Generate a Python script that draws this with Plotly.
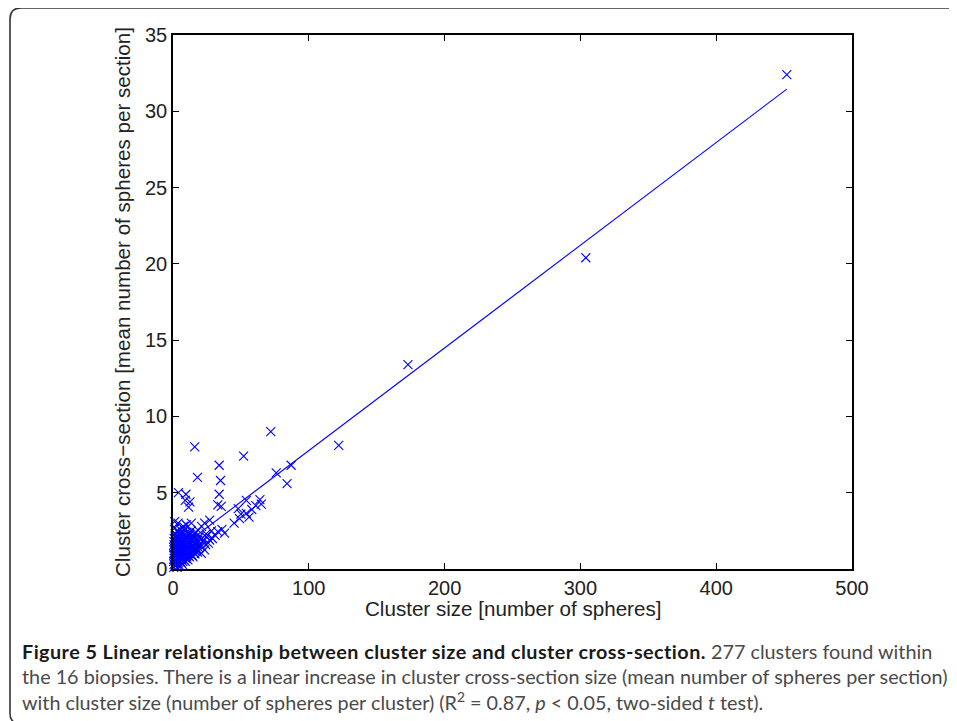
import plotly.graph_objects as go

# ---------------- data ----------------
# clearly resolved points (cluster size, mean spheres per section)
main_size = [452, 304, 173, 122, 72, 16, 52, 34, 18, 35, 34, 35.5, 33, 76, 87, 84,
             4, 9.5, 9, 12.5, 11.5, 54, 64, 65, 61, 48, 50, 54, 56, 45,
             27, 21, 23.3, 36, 33, 38, 28.3, 1.2, 3.7, 9.8, 13.5, 18.4, 16,
             24.5, 27, 22, 19.6, 23.3, 20.9, 17.2, 14.7, 7.6, 1.5, 49, 58]
main_cross = [32.4, 20.4, 13.4, 8.1, 9.0, 8.0, 7.4, 6.8, 6.0, 5.8, 4.9, 4.1, 4.2, 6.3, 6.8, 5.6,
              5.0, 4.9, 4.5, 4.4, 4.05, 4.5, 4.55, 4.25, 4.15, 3.95, 3.6, 3.65, 3.4, 3.0,
              3.2, 2.8, 3.0, 2.6, 2.45, 2.35, 2.5, 3.1, 3.0, 2.9, 3.0, 2.55, 2.35,
              2.1, 1.9, 1.8, 1.57, 1.25, 1.03, 1.36, 0.8, 2.8, 2.7, 3.3, 3.9]

# dense cloud of small clusters near the origin
dense_size = [
    0.5, 0.8, 0.6, 0.9, 0.7, 0.5, 1.0, 0.6, 0.8, 0.7, 0.9,
    1.6, 2.0, 1.8, 1.5, 2.1, 1.7, 1.9, 1.6, 2.2, 1.8, 2.0, 1.5,
    3.0, 2.8, 3.2, 2.9, 3.1, 3.3, 2.7, 3.0, 3.2, 2.9, 3.1, 2.8,
    4.0, 4.2, 3.9, 4.1, 4.3, 3.8, 4.0, 4.4, 4.1, 3.9,
    5.0, 5.2, 4.9, 5.3, 5.1, 4.8, 5.2, 5.0, 5.4, 4.9, 5.1,
    6.1, 5.9, 6.2, 6.0, 6.3, 5.8, 6.1, 6.0,
    7.0, 7.2, 6.9, 7.1, 7.3, 6.8, 7.0, 7.2,
    8.1, 7.9, 8.2, 8.0, 7.8, 8.3, 8.1,
    9.0, 9.2, 8.9, 9.1, 9.3, 8.8, 9.0,
    10.1, 9.9, 10.2, 10.0, 10.3, 9.8,
    11.0, 11.2, 10.9, 11.1, 11.3, 10.8,
    12.1, 11.9, 12.2, 12.0, 12.3,
    13.0, 13.2, 12.9, 13.1, 13.3,
    14.1, 13.9, 14.2, 14.0,
    15.0, 15.2, 14.9, 15.1,
    16.1, 15.9, 16.2, 16.0,
    17.0, 17.2, 16.9,
    18.1, 17.9, 18.2,
    19.0, 19.2,
    21.0, 21.3,
    24.0, 24.4,
    26.0, 29.0, 31.0,
]
dense_cross = [
    0.1, 0.3, 0.5, 0.7, 0.9, 1.0, 1.2, 1.4, 1.6, 1.8, 2.0,
    0.2, 0.4, 0.6, 0.8, 1.0, 1.1, 1.3, 1.5, 1.7, 1.9, 2.1, 2.3,
    0.1, 0.3, 0.5, 0.7, 0.9, 1.1, 1.3, 1.5, 1.8, 2.0, 2.2, 2.5,
    0.4, 0.6, 0.8, 1.0, 1.2, 1.4, 1.6, 1.9, 2.1, 2.4,
    0.2, 0.5, 0.7, 0.9, 1.1, 1.3, 1.5, 1.7, 2.0, 2.3, 2.6,
    0.4, 0.6, 0.8, 1.0, 1.2, 1.5, 1.8, 2.2,
    0.3, 0.5, 0.8, 1.0, 1.3, 1.6, 1.9, 2.4,
    0.6, 0.9, 1.1, 1.4, 1.7, 2.0, 2.6,
    0.5, 0.7, 1.0, 1.2, 1.5, 1.9, 2.2,
    0.8, 1.1, 1.3, 1.6, 2.0, 2.4,
    0.6, 0.9, 1.2, 1.5, 1.8, 2.1,
    0.8, 1.0, 1.4, 1.7, 2.3,
    1.0, 1.2, 1.6, 1.9, 2.5,
    0.9, 1.3, 1.5, 2.0,
    1.1, 1.4, 1.8, 2.2,
    1.0, 1.2, 1.6, 2.0,
    1.3, 1.7, 2.4,
    1.1, 1.5, 1.9,
    1.4, 2.1,
    1.5, 2.0,
    1.6, 2.3,
    1.7, 2.0, 2.2,
]

# linear fit end points
fit_size = [1, 452]
fit_cross = [1.1, 31.45]

x_ticks = [0, 100, 200, 300, 400, 500]
y_ticks = [0, 5, 10, 15, 20, 25, 30, 35]

x_title = "Cluster size [number of spheres]"
y_title = "Cluster cross\u2212section [mean number of spheres per section]"

caption_lines = [
    "<span style='letter-spacing:0.45px'><b>Figure 5 Linear relationship between cluster size and "
    "cluster cross-section.</b></span>"
    "<span style='color:#4a4a4a'> 277 clusters found within</span>",
    "<span style='color:#4a4a4a'>the 16 biopsies. There is a linear increase in cluster cross-section size "
    "(mean number of spheres per section)</span>",
    "<span style='color:#4a4a4a'>with cluster size (number of spheres per cluster) (R<sup>2</sup> = 0.87, "
    "<i>p</i> &lt; 0.05, two-sided <i>t</i> test).</span>",
]

# ---------------- figure ----------------
# the page body adds an 8px margin, so the figure is placed at (8, 8) on screen
OFF = 8
SCREEN_W, SCREEN_H = 957, 721
PLOT_L, PLOT_R, PLOT_T, PLOT_B = 173, 852, 35, 569   # plot area in screen pixels
W, H = SCREEN_W - OFF, SCREEN_H - OFF
L, T = PLOT_L - OFF, PLOT_T - OFF
R, B = SCREEN_W - PLOT_R, SCREEN_H - PLOT_B
pw, ph = PLOT_R - PLOT_L, PLOT_B - PLOT_T


def px_to_paper(x, y):
    return (x - PLOT_L) / pw, (PLOT_B - y) / ph


BLUE = "#0000ff"
fig = go.Figure()
fig.add_trace(go.Scatter(
    x=dense_size + main_size, y=dense_cross + main_cross, mode="markers",
    marker=dict(symbol="x-thin", size=9, line=dict(width=1.1, color=BLUE), color=BLUE),
    cliponaxis=False, showlegend=False, hoverinfo="x+y"))
fig.add_trace(go.Scatter(
    x=fit_size, y=fit_cross, mode="lines", line=dict(color=BLUE, width=1.1),
    showlegend=False, hoverinfo="skip"))

axis_common = dict(
    showgrid=False, zeroline=False, showline=True, linecolor="#000", linewidth=1.5,
    mirror="ticks", ticks="inside", ticklen=6, tickwidth=1, tickcolor="#000",
    tickfont=dict(family="Liberation Sans, Arial, sans-serif", size=20, color="#222"),
)
fig.update_xaxes(range=[0, 500], tickvals=x_ticks, ticktext=[str(v) for v in x_ticks], **axis_common)
fig.update_yaxes(range=[0, 35], tickvals=y_ticks, ticktext=[str(v) for v in y_ticks], **axis_common)

title_font = dict(family="Liberation Sans, Arial, sans-serif", size=20.6, color="#222")
annotations = []
_, ax_y = px_to_paper(512, 608)
annotations.append(dict(text=x_title, xref="paper", yref="paper", x=0.5, y=ax_y,
                        xanchor="center", yanchor="middle", showarrow=False, font=title_font))
ay_x, _ = px_to_paper(122, 303)
annotations.append(dict(text=y_title, xref="paper", yref="paper", x=ay_x, y=0.5,
                        xanchor="center", yanchor="middle", textangle=-90, showarrow=False,
                        font=title_font))
for i, line in enumerate(caption_lines):
    cx, cy = px_to_paper(20, 651 + 25 * i)
    annotations.append(dict(text=line, xref="paper", yref="paper", x=cx, y=cy,
                            xanchor="left", yanchor="middle", showarrow=False, align="left",
                            font=dict(family="Lato, Open Sans, sans-serif", size=19.8, color="#1a1a1a")))

# rounded outer frame
x0, yt = px_to_paper(10, 8)
x1, yb = px_to_paper(975, 724)
rx, ry = 11 / pw, 11 / ph
frame_path = (f"M {x0 + rx},{yt} L {x1},{yt} L {x1},{yb} L {x0 + rx},{yb} "
              f"Q {x0},{yb} {x0},{yb + ry} L {x0},{yt - ry} Q {x0},{yt} {x0 + rx},{yt} Z")

fig.update_layout(
    width=W, height=H, margin=dict(l=L, r=R, t=T, b=B, autoexpand=False),
    paper_bgcolor="white", plot_bgcolor="white",
    annotations=annotations,
    shapes=[dict(type="path", xref="paper", yref="paper", path=frame_path,
                 line=dict(color="#333", width=1.6), layer="below")],
)

fig.write_html("out.html")
